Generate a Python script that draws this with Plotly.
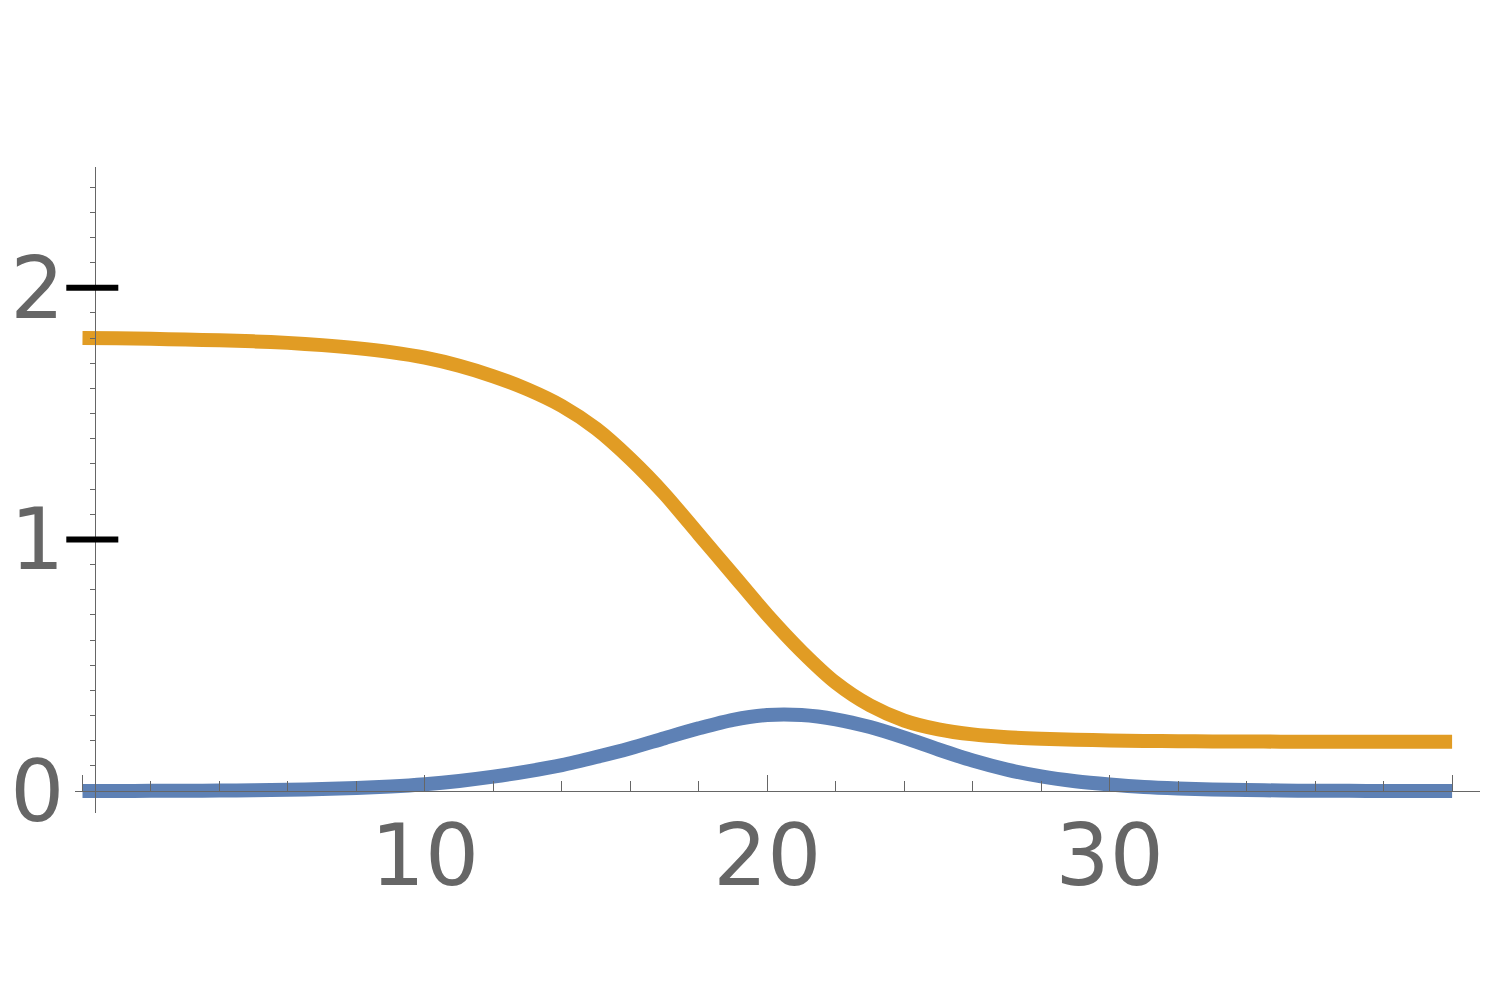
import plotly.graph_objects as go

# ---- data ----
x_vals = list(range(41))
blue_vals = [0.000, 0.000, 0.001, 0.001, 0.002, 0.003, 0.005, 0.008, 0.012, 0.018,
             0.027, 0.040, 0.057, 0.078, 0.103, 0.135, 0.170, 0.210, 0.249, 0.283,
             0.302, 0.302, 0.285, 0.254, 0.212, 0.165, 0.121, 0.085, 0.058, 0.039,
             0.026, 0.016, 0.010, 0.006, 0.004, 0.002, 0.001, 0.001, 0.000, 0.000,
             0.000]
orange_vals = [1.800, 1.799, 1.797, 1.794, 1.791, 1.787, 1.781, 1.772, 1.760, 1.744,
               1.722, 1.690, 1.648, 1.596, 1.530, 1.440, 1.320, 1.180, 1.020, 0.860,
               0.700, 0.555, 0.430, 0.340, 0.280, 0.245, 0.225, 0.214, 0.208, 0.204,
               0.201, 0.199, 0.198, 0.197, 0.197, 0.196, 0.196, 0.196, 0.196, 0.196,
               0.196]
x_tick_vals = [0, 10, 20, 30, 40]
x_tick_text = ["", "10", "20", "30", ""]
y_tick_vals = [0, 1, 2]
y_tick_text = ["0", "1", "2"]

# ---- layout geometry (page body has an 8px margin) ----
W, H = 1491, 1000
L, R, T, B = 67, 19, 159, 195
x_range = [-0.219, 40.815]
y_range = [-0.0874, 2.480]
y_axis_x = 0.374  # where the vertical axis crosses
x_axis_pos = (0 - y_range[0]) / (y_range[1] - y_range[0])
y_axis_pos = (y_axis_x - x_range[0]) / (x_range[1] - x_range[0])

BLUE = "#5E81B5"
ORANGE = "#E19C24"
GREY = "#666666"
FONT = dict(family="DejaVu Sans", size=85, color=GREY)

fig = go.Figure()
fig.add_trace(go.Scatter(x=x_vals, y=blue_vals, mode="lines",
                         line=dict(color=BLUE, width=14, shape="spline", smoothing=0.8),
                         hoverinfo="skip", showlegend=False))
fig.add_trace(go.Scatter(x=x_vals, y=orange_vals, mode="lines",
                         line=dict(color=ORANGE, width=14, shape="spline", smoothing=0.8),
                         hoverinfo="skip", showlegend=False))

# thick black major tick marks crossing the vertical axis (not clipped: paper x-ref)
for v in y_tick_vals[1:]:
    fig.add_shape(type="line", xref="paper", yref="y", xsizemode="pixel", xanchor=y_axis_pos,
                  x0=-29, x1=23, y0=v, y1=v, line=dict(color="black", width=6), layer="above")

fig.update_layout(
    width=W, height=H,
    margin=dict(l=L, r=R, t=T, b=B, autoexpand=False),
    paper_bgcolor="white", plot_bgcolor="white",
    showlegend=False,
    xaxis=dict(range=x_range, showgrid=False, zeroline=False, automargin=False,
               showline=True, linecolor=GREY, linewidth=1,
               anchor="free", position=x_axis_pos,
               tickmode="array", tickvals=x_tick_vals, ticktext=x_tick_text,
               ticks="inside", ticklen=16, tickwidth=1, tickcolor=GREY,
               tickfont=FONT, ticklabelstandoff=-9,
               minor=dict(tick0=0, dtick=2, ticks="inside", ticklen=10,
                          tickwidth=1, tickcolor=GREY, showgrid=False)),
    yaxis=dict(range=y_range, showgrid=False, zeroline=False, automargin=False,
               showline=True, linecolor=GREY, linewidth=1,
               anchor="free", position=y_axis_pos,
               tickmode="array", tickvals=y_tick_vals, ticktext=y_tick_text,
               ticks="outside", ticklen=5, tickwidth=1, tickcolor=GREY,
               tickfont=FONT, ticklabelstandoff=9,
               minor=dict(tick0=0, dtick=0.1, ticks="outside", ticklen=5,
                          tickwidth=1, tickcolor=GREY, showgrid=False)),
)

fig.write_html("out.html", config={"displayModeBar": False})
